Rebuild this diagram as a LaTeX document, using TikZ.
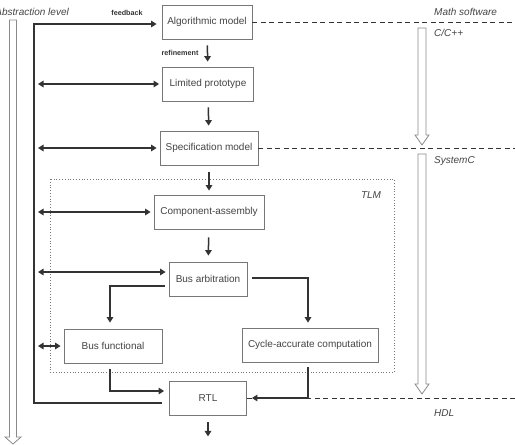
\documentclass[tikz,border=0pt]{standalone}
\usepackage{fontspec}
\setmainfont{Liberation Sans}
\usepackage{tikz}
\usetikzlibrary{calc}
\usetikzlibrary{arrows.meta}

\definecolor{linegray}{HTML}{333333}
\definecolor{boxgray}{HTML}{777777}
\definecolor{textgray}{HTML}{444444}
\definecolor{hollowgray}{HTML}{8A8A8A}

\tikzset{
    block/.style={draw=boxgray, line width=0.8pt, fill=white, text=textgray,
        font=\fontsize{10}{12}\selectfont, inner sep=0pt,
        minimum width=#1, minimum height=34pt},
    block/.default=90pt,
    flow/.style={draw=linegray, line width=1.5pt, -{Triangle[length=5.5pt,width=6.5pt]}},
    both/.style={draw=linegray, line width=1.5pt, {Triangle[length=5.5pt,width=6.5pt]}-{Triangle[length=5.5pt,width=6.5pt]}},
    level/.style={draw=linegray, line width=0.9pt, dash pattern=on 5pt off 3.5pt},
    hollow/.style={draw=hollowgray, line width=0.8pt, fill=white},
    tag/.style={text=textgray, font=\fontsize{10}{12}\selectfont\itshape, inner sep=0pt},
    small/.style={text=linegray, font=\fontsize{7.2}{9}\selectfont\bfseries, inner sep=0pt}
}

\begin{document}
\begin{tikzpicture}[x=1pt, y=-1pt]
        \useasboundingbox (0,0) rectangle (515,445);

        % abstraction level arrow
        % -----------------------
        \draw[hollow] (9.5,20) -- (16.5,20) -- (16.5,437) -- (21,437)
            -- (13,444) -- (5,437) -- (9.5,437) -- cycle;
        \node[tag, anchor=east] (abs) at (69,12) {Abstraction level};

        % language arrows on the right
        \foreach \top/\bot in {28/145, 154/394}
            \draw[hollow] (418,\top) -- (426,\top) -- (426,\bot-10) -- (429,\bot-10)
                -- (422,\bot) -- (415,\bot-10) -- (418,\bot-10) -- cycle;

        % TLM region
        \draw[boxgray, line width=0.8pt, dotted] (50,179) rectangle (394,372);
        \node[tag] (tlm) at (371,195) {TLM};

        % models
        % ------
        \node[block=90pt]  (algo)    at (207,22)  {Algorithmic model};
        \node[block=91pt]  (limited) at (208,84)  {Limited prototype};
        \node[block=98pt]  (spec)    at (209,148) {Specification model};
        \node[block=110pt] (comp)    at (209,212) {Component-assembly};
        \node[block=78pt]  (busarb)  at (208,279) {Bus arbitration};
        \node[block=98pt]  (busfun)  at (113,346) {Bus functional};
        \node[block=136pt] (cycle)   at (310,345) {Cycle-accurate computation};
        \node[block=77pt]  (rtl)     at (208,398) {RTL};

        % helper coordinates
        \coordinate (leftbus) at (38,0);
        \coordinate (rightedge) at (515,0);
        \coordinate (fb) at (34,403);

        % level lines
        \draw[level] (algo.east) -- (algo.east -| rightedge);
        \draw[level] (spec.east) -- (spec.east -| rightedge);
        \draw[level] (rtl.east) -- (rtl.east -| rightedge);

        % level labels
        \node[tag, anchor=west] (math) at (434,12)  {Math software};
        \node[tag, anchor=west] (cpp)  at (434,33)  {C/C++};
        \node[tag, anchor=west] (sysc) at (434,161) {SystemC};
        \node[tag, anchor=west] (hdl)  at (434,413) {HDL};

        % refinement steps
        \draw[flow, shorten <=6pt, shorten >=5pt] (algo) -- (limited);
        \draw[flow, shorten <=6pt, shorten >=5pt] (limited) -- (spec);
        \draw[flow, shorten <=7pt, shorten >=4pt] (spec) -- (comp);
        \draw[flow, shorten <=8pt, shorten >=6pt] (comp) -- (busarb);
        \draw[flow, shorten <=4pt, shorten >=6pt] ($(busarb.west)+(0,7)$) -| ($(busfun.north)+(-3,0)$);
        \draw[flow, shorten <=5pt, shorten >=5pt] ($(busarb.east)+(0,-1)$) -| ($(cycle.north)+(-2,0)$);
        \draw[flow, shorten <=6pt, shorten >=5pt] ($(busfun.south)+(-3,0)$) |- ($(rtl.west)+(0,-7)$);
        \draw[flow, shorten <=5pt, shorten >=5pt] ($(cycle.south)+(-2,0)$) |- (rtl.east);
        \draw[flow, shorten >=2pt] (rtl.south) ++(0,7) coordinate (out) -- ++(0,16) coordinate (outend);
        \node[small] (refine) at (180,53) {refinement};

        % feedback
        \draw[flow, line width=1.7pt, shorten <=7pt, shorten >=5pt]
            ($(rtl.west)+(0,5)$) -| (fb) |- ($(algo.west)+(0,2)$);
        \node[small] (feed) at (127,13) {feedback};

        % simulation links
        \draw[both, shorten >=3pt] (limited.west -| leftbus) -- (limited.west);
        \draw[both, shorten >=3pt] (spec.west -| leftbus) -- (spec.west);
        \draw[both, shorten >=3pt] (comp.west -| leftbus) -- (comp.west);
        \draw[both, shorten >=3pt] ($(busarb.west -| leftbus)+(0,-7)$) -- ($(busarb.west)+(0,-7)$);
        \draw[both, shorten >=3pt] (busfun.west -| leftbus) -- (busfun.west);

    \end{tikzpicture}
\end{document}
